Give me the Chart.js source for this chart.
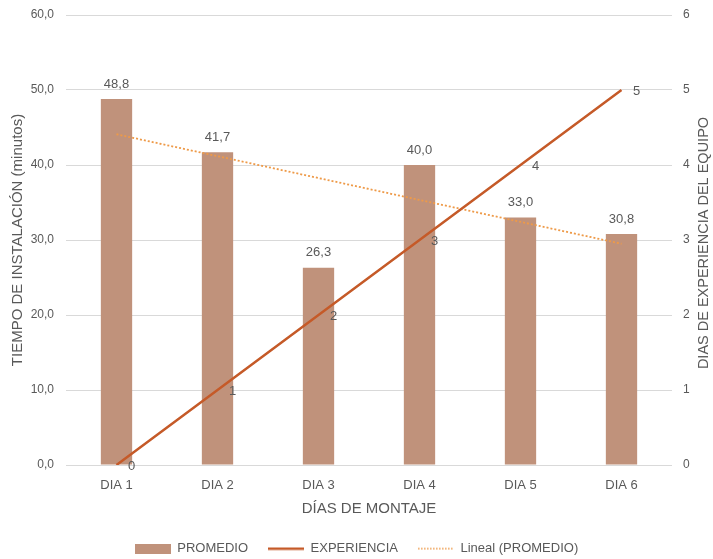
<!DOCTYPE html>
<html>
<head>
<meta charset="utf-8">
<script src="https://cdn.jsdelivr.net/npm/chart.js@4/dist/chart.umd.min.js"></script>
<style>
  html, body { margin: 0; padding: 0; background: #fff; }
  #wrap { width: 713px; height: 559px; }
</style>
</head>
<body>
<div id="wrap"><canvas id="chart" width="713" height="559"></canvas></div>
<script>
// días de montaje
const dias = ['DIA 1', 'DIA 2', 'DIA 3', 'DIA 4', 'DIA 5', 'DIA 6'];
// tiempo promedio de instalación (minutos)
const promedio = [48.8, 41.7, 26.3, 40.0, 33.0, 30.8];
// días de experiencia del equipo (eje derecho)
const experiencia = [0, 1, 2, 3, 4, 5];
// línea de tendencia lineal del promedio: sólo extremos
const lineal = [44.1, null, null, null, null, 29.5];

const yTicksLeft = [0, 10, 20, 30, 40, 50, 60];
const yTicksRight = [0, 1, 2, 3, 4, 5, 6];

const FONT = "'Liberation Sans Narrow', 'Liberation Sans', Arial, sans-serif";
const GRIS = '#595959';
const C_BARRA = '#C0927B';
const C_EXP = '#C55A28';
const C_LIN = '#EE9A48';

const fmt = v => v.toFixed(1).replace('.', ',');

// marcadores de la leyenda dibujados en canvas pequeños
function marker(draw) {
  const c = document.createElement('canvas');
  c.width = 36; c.height = 10;
  draw(c.getContext('2d'));
  return c;
}
const mkBarra = marker(g => { g.fillStyle = C_BARRA; g.fillRect(0, 0, 36, 10); });
const mkExp = marker(g => { g.fillStyle = C_EXP; g.fillRect(0, 4, 36, 2.5); });
const mkLin = marker(g => {
  g.fillStyle = C_LIN;
  for (let x = 0; x < 36; x += 3) g.fillRect(x, 4.5, 1.6, 1.4);
});

// etiquetas de valor y título del eje derecho
const valueLabels = {
  id: 'valueLabels',
  afterDatasetsDraw(chart) {
    const ctx = chart.ctx;
    ctx.save();
    ctx.fillStyle = GRIS;
    ctx.textBaseline = 'middle';
    ctx.textAlign = 'center';
    ctx.font = `13px ${FONT}`;
    chart.getDatasetMeta(0).data.forEach((bar, i) => {
      ctx.fillText(fmt(promedio[i]), bar.x, bar.y - 15);
    });
    chart.getDatasetMeta(1).data.forEach((pt, i) => {
      ctx.fillText(String(experiencia[i]), pt.x + 15, pt.y + 1);
    });
    const a = chart.chartArea;
    ctx.translate(704, (a.top + a.bottom) / 2 + 3);
    ctx.rotate(-Math.PI / 2);
    ctx.font = `14.5px ${FONT}`;
    ctx.fillText('DIAS DE EXPERIENCIA DEL EQUIPO', 0, 0);
    ctx.restore();
  }
};

// ancho fijo del eje y sin margen extra arriba/abajo
const fixY = w => s => { s.width = w; s.paddingTop = 0; s.paddingBottom = 0; };

new Chart(document.getElementById('chart'), {
  data: {
    labels: dias,
    datasets: [
      {
        type: 'bar',
        label: 'PROMEDIO',
        data: promedio,
        yAxisID: 'y',
        backgroundColor: C_BARRA,
        borderWidth: 0,
        barPercentage: 0.31,
        categoryPercentage: 1,
        pointStyle: mkBarra,
        order: 3
      },
      {
        type: 'line',
        label: 'EXPERIENCIA',
        data: experiencia,
        yAxisID: 'y1',
        borderColor: C_EXP,
        borderWidth: 2.5,
        pointRadius: 0,
        pointStyle: mkExp,
        order: 1
      },
      {
        type: 'line',
        label: 'Lineal (PROMEDIO)',
        data: lineal,
        yAxisID: 'y',
        borderColor: C_LIN,
        borderWidth: 1.8,
        borderDash: [2, 2],
        spanGaps: true,
        pointRadius: 0,
        pointStyle: mkLin,
        order: 2
      }
    ]
  },
  options: {
    responsive: false,
    animation: false,
    layout: { padding: { top: 15, left: 0, right: 0, bottom: -6 } },
    plugins: {
      tooltip: { enabled: false },
      legend: {
        position: 'bottom',
        labels: {
          usePointStyle: true,
          pointStyleWidth: 36,
          boxWidth: 36,
          boxHeight: 10,
          padding: 20,
          color: GRIS,
          font: { family: FONT, size: 13 },
          sort: (a, b) => a.datasetIndex - b.datasetIndex
        }
      }
    },
    scales: {
      x: {
        grid: { display: false },
        border: { display: false },
        ticks: { color: GRIS, font: { family: FONT, size: 13 }, padding: 5 },
        title: { display: true, text: 'DÍAS DE MONTAJE', color: GRIS, font: { family: FONT, size: 15 }, padding: { top: 2 } },
        afterFit(s) { s.height = 57; }
      },
      y: {
        position: 'left',
        min: 0, max: 60,
        afterBuildTicks(s) { s.ticks = yTicksLeft.map(v => ({ value: v })); },
        grid: { color: '#D9D9D9', drawTicks: false },
        border: { display: false },
        ticks: { color: GRIS, font: { family: FONT, size: 12 }, padding: 12, callback: v => fmt(v) },
        title: { display: true, text: 'TIEMPO DE INSTALACIÓN (minutos)', color: GRIS, font: { family: FONT, size: 15 }, padding: { top: 9, bottom: 2 } },
        afterFit: fixY(66)
      },
      y1: {
        position: 'right',
        min: 0, max: 6,
        afterBuildTicks(s) { s.ticks = yTicksRight.map(v => ({ value: v })); },
        grid: { display: false },
        border: { display: false },
        ticks: { color: GRIS, font: { family: FONT, size: 12 }, padding: 3 },
        afterFit: fixY(41)
      }
    }
  },
  plugins: [valueLabels]
});
</script>
</body>
</html>
